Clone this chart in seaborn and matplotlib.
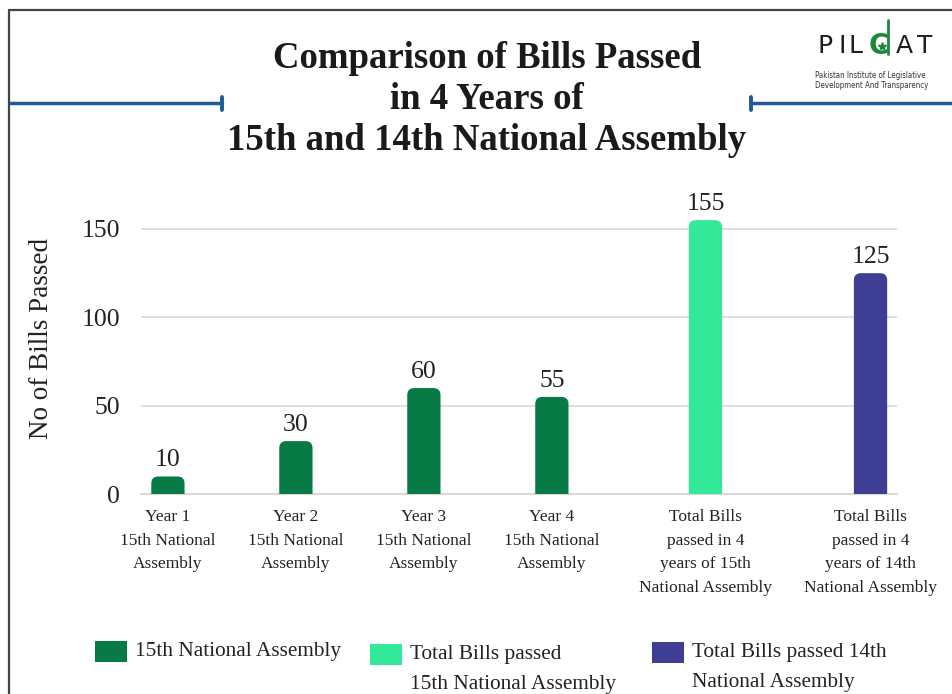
import matplotlib
matplotlib.use("Agg")
import matplotlib.pyplot as plt
from matplotlib.patches import FancyBboxPatch, Rectangle
from matplotlib.lines import Line2D
import seaborn as sns
import pandas as pd

# Data
categories = [
    "Year 1\n15th National\nAssembly",
    "Year 2\n15th National\nAssembly",
    "Year 3\n15th National\nAssembly",
    "Year 4\n15th National\nAssembly",
    "Total Bills\npassed in 4\nyears of 15th\nNational Assembly",
    "Total Bills\npassed in 4\nyears of 14th\nNational Assembly",
]
bills_passed = [10, 30, 60, 55, 155, 125]
groups = ["15th", "15th", "15th", "15th", "total15", "total14"]
legend_labels = [
    "15th National Assembly",
    "Total Bills passed\n15th National Assembly",
    "Total Bills passed 14th\nNational Assembly",
]
yticks = [0, 50, 100, 150]

# Styling
colors = {"15th": "#077a45", "total15": "#33e899", "total14": "#3e3f94"}
slot = [0, 1, 2, 3, 4.2, 5.49]          # horizontal slot of each bar
serif = "Liberation Serif"
ink = "#222222"

sns.set_theme(style="white")
plt.rcParams["font.family"] = [serif, "DejaVu Serif"]

df = pd.DataFrame({"slot": slot, "bills": bills_passed, "group": groups})

fig = plt.figure(figsize=(9.53, 6.94), dpi=100)
ax = fig.add_axes([0.148, 0.288, 0.793, 0.4075])

sns.barplot(data=df, x="slot", y="bills", hue="group", palette=colors,
            native_scale=True, width=0.26, dodge=False, legend=False, ax=ax,
            saturation=1)

ax.set_xlim(-0.21, 5.695)
ax.set_ylim(0, 160)

# Rounded tops for the bars
px_x = 0.793 * 953 / (5.695 + 0.21)
px_y = 0.4075 * 694 / 160
aspect = px_x / px_y
for p in list(ax.patches):
    x0, w, h = p.get_x(), p.get_width(), p.get_height()
    fc = p.get_facecolor()
    p.remove()
    rb = FancyBboxPatch((x0, -15), w, h + 15,
                        boxstyle="round,pad=0,rounding_size=0.055",
                        mutation_aspect=aspect, facecolor=fc, edgecolor="none",
                        clip_on=True, zorder=3)
    ax.add_patch(rb)

for xs, v in zip(slot, bills_passed):
    ax.text(xs, v + 3, f"{v}", ha="center", va="bottom", fontsize=18.5,
            color=ink, fontfamily=serif)

ax.set_yticks(yticks)
ax.set_yticklabels([str(t) for t in yticks], fontsize=18.5, color=ink)
ax.set_xticks(slot)
ax.set_xticklabels(categories, fontsize=12.5, color=ink, linespacing=1.62)
ax.tick_params(axis="y", length=0, pad=15)
ax.tick_params(axis="x", length=0, pad=11)
ax.set_xlabel("")
ax.set_ylabel("No of Bills Passed", fontsize=19.5, color=ink)
ax.yaxis.set_label_coords(-0.115, 0.55)

for s in ["top", "right", "left"]:
    ax.spines[s].set_visible(False)
ax.spines["bottom"].set_color("#d9d9d9")
ax.spines["bottom"].set_linewidth(1.5)
for t in yticks[1:]:
    ax.axhline(t, color="#d9d9d9", lw=1.2, zorder=0)

# Title
title_lines = ["Comparison of Bills Passed", "in 4 Years of",
               "15th and 14th National Assembly"]
for i, line in enumerate(title_lines):
    fig.text(0.511, 1 - (58 + 41.5 * i) / 694, line, ha="center", va="center",
             fontsize=26.5, fontweight="bold", color="#1a1a1a", fontfamily=serif)

# Frame lines at top and left
fig.add_artist(Line2D([9 / 953, 1.0], [1 - 10 / 694, 1 - 10 / 694],
                      color="#444444", lw=1.6))
fig.add_artist(Line2D([9 / 953, 9 / 953], [0, 1 - 10 / 694],
                      color="#444444", lw=1.6))

# Blue rules beside the title
blue = "#1f5a96"
yb = 1 - 103 / 694
fig.add_artist(Line2D([10 / 953, 222 / 953], [yb, yb], color=blue, lw=2.5))
fig.add_artist(Line2D([222 / 953, 222 / 953], [1 - 97 / 694, 1 - 110 / 694],
                      color=blue, lw=2.8))
fig.add_artist(Line2D([751 / 953, 1.0], [yb, yb], color=blue, lw=2.5))
fig.add_artist(Line2D([751 / 953, 751 / 953], [1 - 97 / 694, 1 - 110 / 694],
                      color=blue, lw=2.8))

# Logo
logo_y = 1 - 46 / 694
green = "#1a8a3a"
for ch, cx in [("P", 825), ("I", 842), ("L", 856), ("A", 904.5), ("T", 925)]:
    fig.text(cx / 953, logo_y, ch, ha="center", va="center", fontsize=18,
             fontfamily="DejaVu Sans", color="#1e1e1e")
fig.text(879 / 953, logo_y, "C", ha="center", va="center", fontsize=20,
         fontfamily="DejaVu Sans", fontweight="bold", color=green)
fig.add_artist(Line2D([882 / 953], [1 - 46 / 694], marker="*", markersize=6,
                      color=green, linestyle="none"))
fig.add_artist(Line2D([888 / 953, 888 / 953], [1 - 20 / 694, 1 - 54 / 694],
                      color=green, lw=2.0))
for i, line in enumerate(["Pakistan Institute of Legislative",
                          "Development And Transparency"]):
    fig.text(815 / 953, 1 - (76 + 10 * i) / 694, line, ha="left", va="center",
             fontsize=5.7, fontfamily="DejaVu Sans", fontstretch="condensed",
             color="#333333")

# Legend
legend_pos = [(95, 641), (370, 644), (652, 642)]
for (lx, ly), key, lab in zip(legend_pos, ["15th", "total15", "total14"],
                              legend_labels):
    fig.add_artist(Rectangle((lx / 953, 1 - (ly + 21) / 694), 32 / 953, 21 / 694,
                             facecolor=colors[key], edgecolor="none",
                             transform=fig.transFigure))
    fig.text((lx + 40) / 953, 1 - (ly + 1) / 694, lab, ha="left", va="top",
             fontsize=15.3, color=ink, linespacing=1.82,
             fontfamily=serif)

fig.savefig("out.png", dpi=100)
